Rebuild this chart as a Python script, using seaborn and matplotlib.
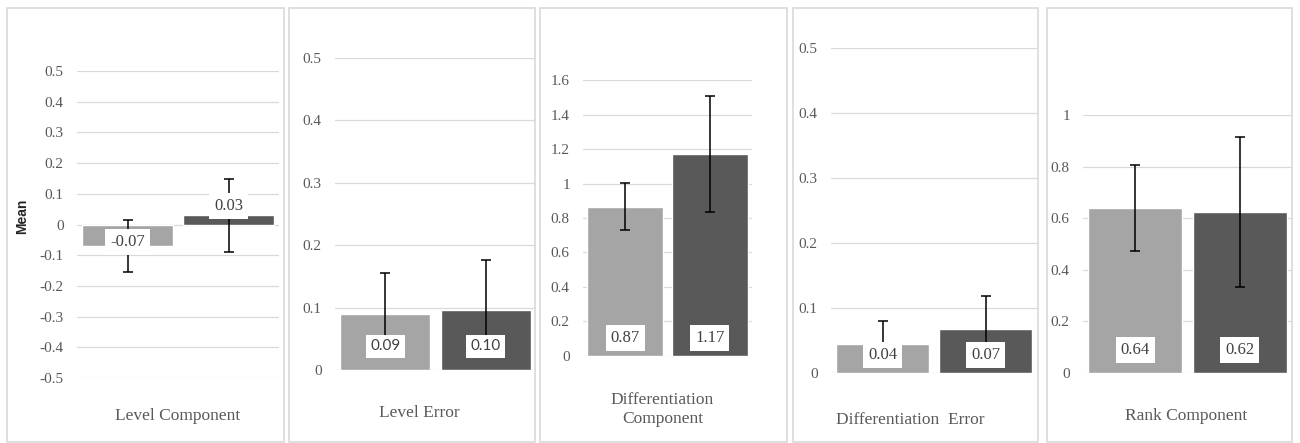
import numpy as np
import pandas as pd
import matplotlib
matplotlib.use("Agg")
import matplotlib.pyplot as plt
from matplotlib.patches import Rectangle
from matplotlib.ticker import FuncFormatter
import seaborn as sns

sns.set_style("white")
plt.rcParams['font.family'] = ['Liberation Serif', 'DejaVu Serif']

# data
groups = ["Group 1", "Group 2"]
titles = ["Level Component", "Level Error", "Differentiation\nComponent",
          "Differentiation  Error", "Rank Component"]
level_comp = [-0.07, 0.03]
level_comp_lo = [0.084, 0.118]
level_comp_hi = [0.084, 0.118]
level_err = [0.09, 0.096]
level_err_lo = [0.062, 0.07]
level_err_hi = [0.065, 0.08]
diff_comp = [0.866, 1.172]
diff_comp_lo = [0.135, 0.337]
diff_comp_hi = [0.135, 0.337]
diff_err = [0.044, 0.067]
diff_err_lo = [0.033, 0.05]
diff_err_hi = [0.036, 0.051]
rank_comp = [0.638, 0.623]
rank_comp_lo = [0.167, 0.292]
rank_comp_hi = [0.167, 0.292]

means = [level_comp, level_err, diff_comp, diff_err, rank_comp]
errs_lo = [level_comp_lo, level_err_lo, diff_comp_lo, diff_err_lo, rank_comp_lo]
errs_hi = [level_comp_hi, level_err_hi, diff_comp_hi, diff_err_hi, rank_comp_hi]
y_limits = [(-0.5, 0.5), (0, 0.5), (0, 1.6), (0, 0.5), (0, 1.0)]
y_steps = [0.1, 0.1, 0.2, 0.1, 0.2]

colors = ["#A5A5A5", "#595959"]
grid_c = "#D9D9D9"
text_c = "#595959"

# layout in pixels (figure is 1300 x 443)
W, H = 1300, 443
frames = [(7, 284), (289, 535), (540, 787), (793, 1038), (1047, 1292)]
plot_x = [(77, 279), (335, 536), (583, 752), (831, 1037), (1083, 1292)]
plot_y = [(71, 378), (57.7, 370), (80.3, 355.7), (47.7, 372.7), (115, 372.7)]
title_pos = [(178, 416), (419.5, 413), (662.5, 409.5), (910, 420), (1186.5, 416)]
label_off = [None, 23.5, 18, 17.7, 22.7]   # px above zero line
label_fonts = ['Liberation Serif', 'Lato', 'Liberation Serif', 'Liberation Serif', 'Liberation Serif']
label_sizes = [12, 11, 12, 12, 12]

fig = plt.figure(figsize=(13, 4.43), dpi=100)

# panel borders
for x0, x1 in frames:
    fig.add_artist(Rectangle((x0 / W, 1 - 442 / H), (x1 - x0) / W, (442 - 8) / H,
                             transform=fig.transFigure, fill=False,
                             edgecolor=grid_c, linewidth=1.2))

fmt = FuncFormatter(lambda v, p: "%g" % (round(v, 2) + 0.0))

for i in range(5):
    (x0, x1), (yt, yb) = plot_x[i], plot_y[i]
    ax = fig.add_axes([x0 / W, 1 - yb / H, (x1 - x0) / W, (yb - yt) / H])
    df = pd.DataFrame({"group": groups, "value": means[i]})
    sns.barplot(data=df, x="group", y="value", hue="group", palette=colors,
                width=0.9, saturation=1, errorbar=None, legend=False, ax=ax, zorder=2)
    ax.errorbar(x=[0, 1], y=means[i], yerr=[errs_lo[i], errs_hi[i]], fmt="none",
                ecolor="black", elinewidth=1.1, capsize=3.3, capthick=1.1, zorder=3)

    lo, hi = y_limits[i]
    ax.set_ylim(lo, hi)
    ax.set_xlim(-0.5, 1.5)
    ax.set_yticks(np.arange(lo, hi + y_steps[i] / 2, y_steps[i]))
    ax.yaxis.set_major_formatter(fmt)
    ax.grid(axis="y", color=grid_c, linewidth=0.9)
    ax.set_axisbelow(True)
    ax.set_xticks([])
    ax.set_xlabel("")
    ax.set_ylabel("")
    ax.tick_params(axis="y", length=0, pad=9.5, labelcolor=text_c, labelsize=11)
    for lbl in ax.get_yticklabels():
        lbl.set_fontfamily(['Liberation Serif', 'DejaVu Serif'])
    sns.despine(ax=ax, left=True, bottom=True)
    ax.patch.set_alpha(0)

    # data labels in white boxes
    for j, v in enumerate(means[i]):
        if i == 0:
            xy, off = (j, v), [3, 6.5][j]
        else:
            xy, off = (j, 0), label_off[i] * 0.72
        ax.annotate("%.2f" % v, xy=xy, xytext=(0, off), textcoords="offset points",
                    ha="center", va="center", fontsize=label_sizes[i], color="#404040",
                    family=label_fonts[i], zorder=5,
                    bbox=dict(boxstyle="square,pad=0.3", fc="white", ec="none"))

    tx, ty = title_pos[i]
    fig.text(tx / W, 1 - ty / H, titles[i], ha="center", va="center",
             fontsize=12.5, color=text_c, linespacing=1.25)

fig.text(22 / W, 1 - 216 / H, "Mean", rotation=90, ha="center", va="center",
         fontsize=10, fontweight="bold", family=["Liberation Sans", "DejaVu Sans"])

fig.savefig("out.png", dpi=100)
